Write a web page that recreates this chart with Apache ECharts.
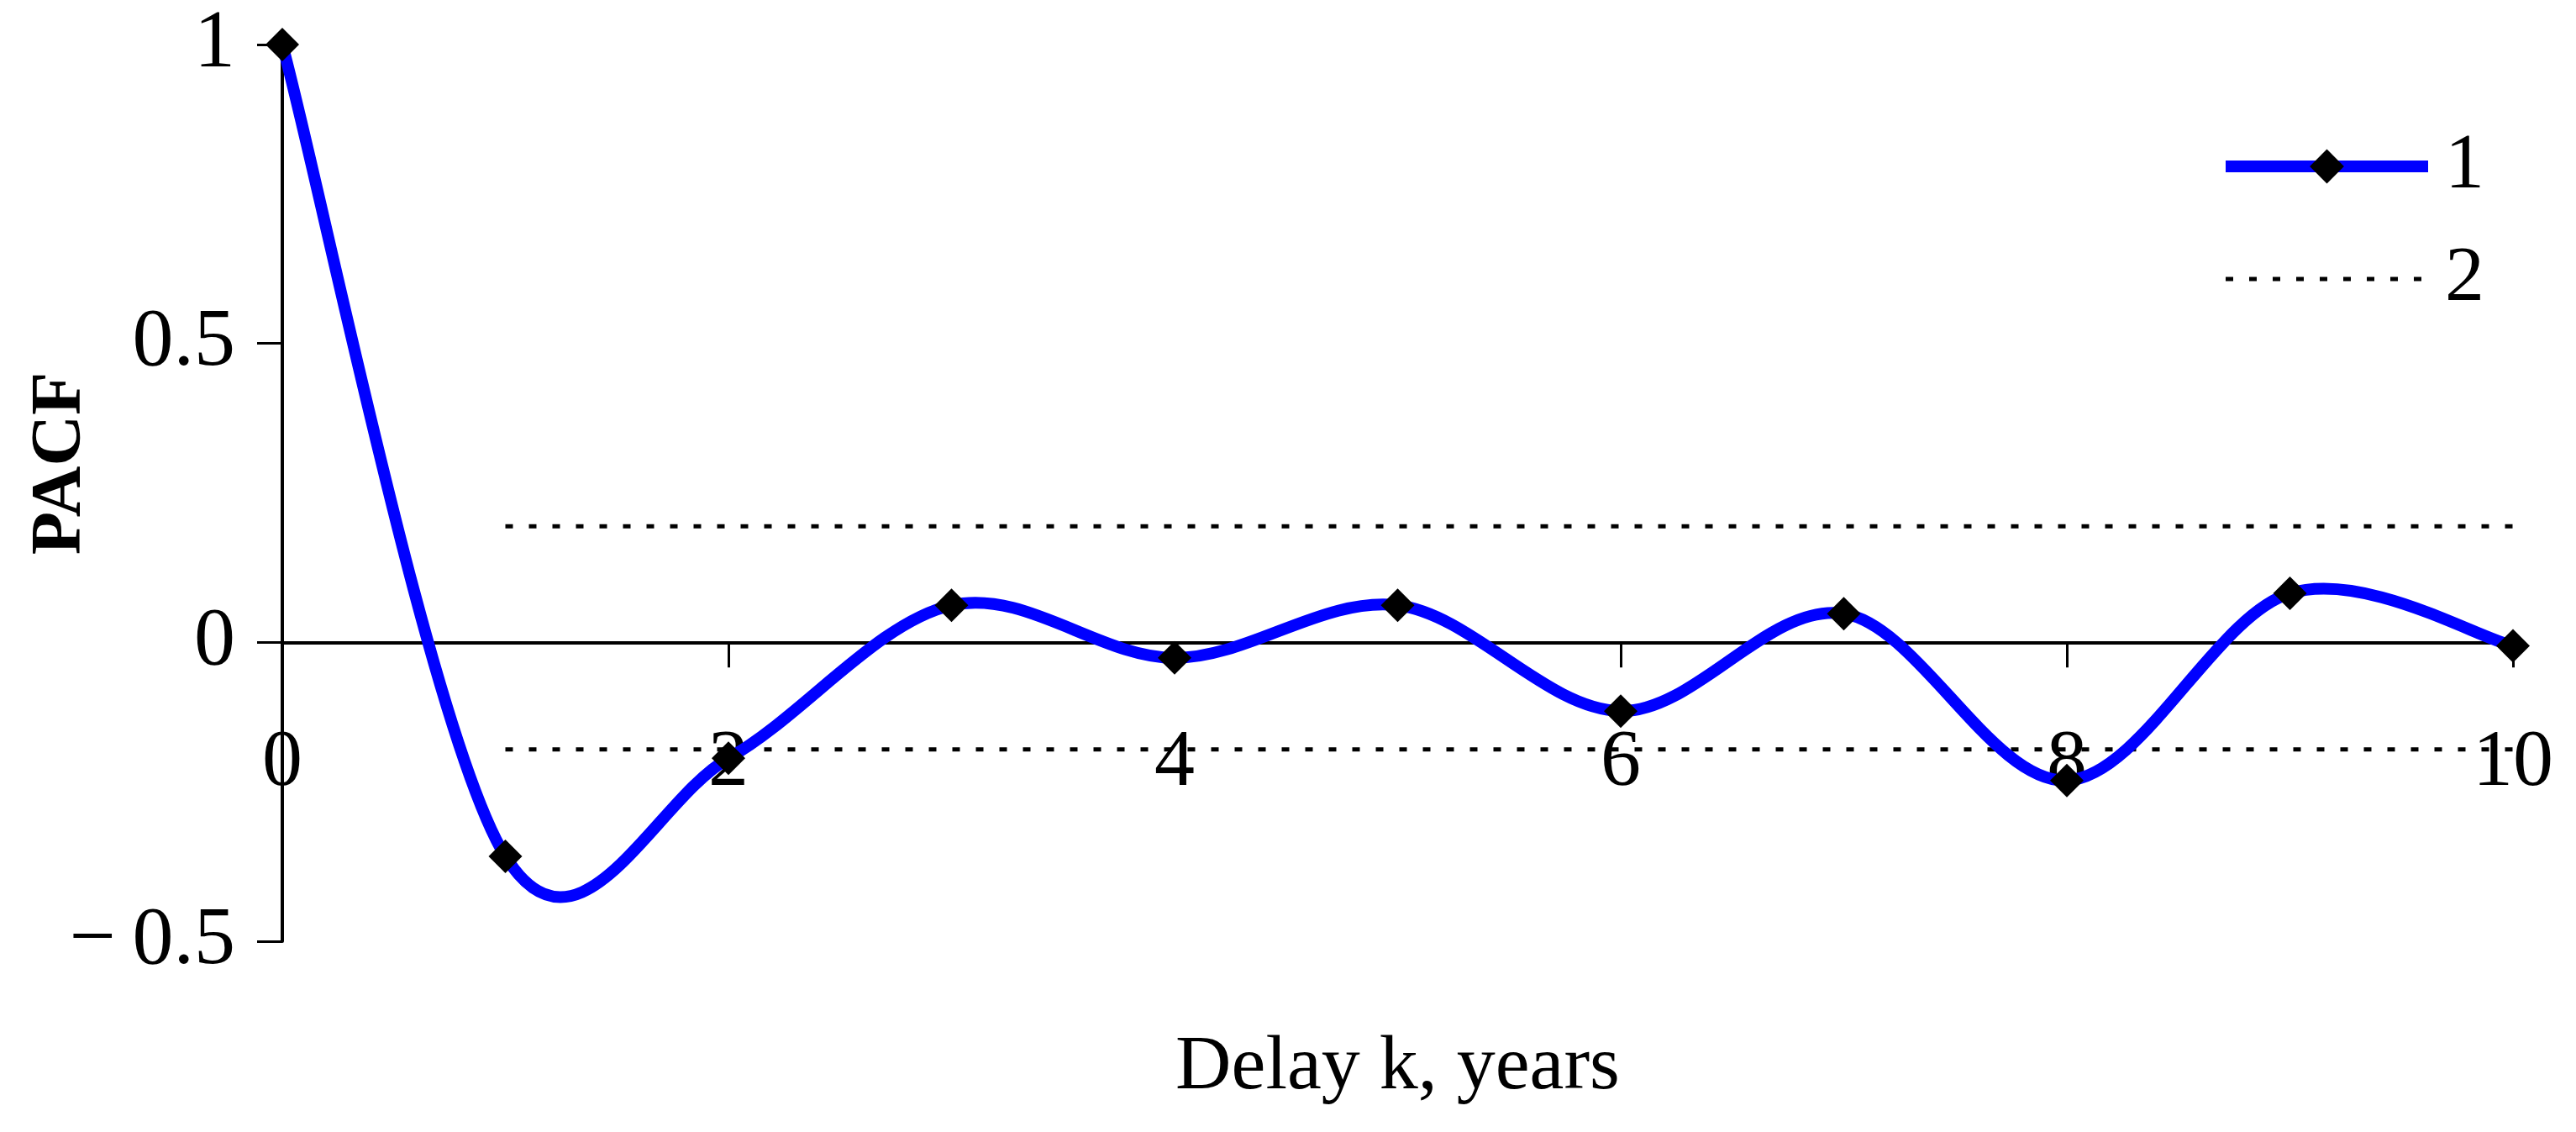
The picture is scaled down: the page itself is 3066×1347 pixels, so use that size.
<!DOCTYPE html>
<html>
<head>
<meta charset="utf-8">
<script src="https://cdn.jsdelivr.net/npm/echarts@6/dist/echarts.min.js"></script>
<style>
html,body{margin:0;padding:0;background:#fff;}
#chart{width:3066px;height:1347px;}
</style>
</head>
<body>
<div id="chart"></div>
<script>
// ---- data ----
const lags = [0, 1, 2, 3, 4, 5, 6, 7, 8, 9, 10];
const pacf = [1.0, -0.358, -0.194, 0.062, -0.026, 0.062, -0.115, 0.048, -0.231, 0.082, -0.006];
const boundLags = [1, 10];
const upperBound = 0.194;
const lowerBound = -0.179;
const xTicks = [0, 2, 4, 6, 8, 10];
const yTicks = [-0.5, 0, 0.5, 1];
const seriesNames = ['1', '2'];
const xName = 'Delay k, years';
const yName = 'PACF';

const FONT = "'Times New Roman', 'Liberation Serif', serif";
const BLUE = '#0000ff';
const LINE_W = 14;

const mainData = lags.map((k, i) => [k, pacf[i]]);
const upperData = boundLags.map(k => [k, upperBound]);
const lowerData = boundLags.map(k => [k, lowerBound]);
const dotted = { color: '#000', width: 5, type: [9, 19] };

// Spreadsheet-style smoothed curve: cubic Bezier segments through the data
// points (converted to pixels by the chart's own axes via api.coord).
function renderSmooth(params, api) {
  if (params.dataIndex !== 0) return null;
  const pts = mainData.map(d => api.coord(d));
  const n = pts.length;
  const children = [];
  for (let i = 0; i < n - 1; i++) {
    const p0 = pts[i - 1] || pts[i];
    const p1 = pts[i];
    const p2 = pts[i + 1];
    const p3 = pts[i + 2] || pts[i + 1];
    children.push({
      type: 'bezierCurve',
      shape: {
        x1: p1[0], y1: p1[1],
        cpx1: p1[0] + (p2[0] - p0[0]) / 6, cpy1: p1[1] + (p2[1] - p0[1]) / 6,
        cpx2: p2[0] - (p3[0] - p1[0]) / 6, cpy2: p2[1] - (p3[1] - p1[1]) / 6,
        x2: p2[0], y2: p2[1]
      },
      style: { stroke: BLUE, lineWidth: LINE_W, fill: 'none', lineCap: 'round', lineJoin: 'round' }
    });
  }
  return { type: 'group', children: children };
}

const chart = echarts.init(document.getElementById('chart'), null, { renderer: 'canvas' });
chart.setOption({
  backgroundColor: '#fff',
  animation: false,
  grid: { left: 336, right: 75, top: 53, bottom: 227, containLabel: false, outerBoundsMode: 'none' },
  xAxis: {
    type: 'value',
    min: xTicks[0], max: xTicks[xTicks.length - 1], interval: 2,
    name: xName, nameLocation: 'middle', nameGap: 105, nameMoveOverlap: false,
    nameTextStyle: { fontFamily: FONT, fontSize: 92, color: '#000' },
    axisLine: { onZero: true, lineStyle: { color: '#000', width: 4 } },
    axisTick: { show: true, length: 30, lineStyle: { color: '#000', width: 3 } },
    axisLabel: { fontFamily: FONT, fontSize: 96, color: '#000', margin: -259 },
    splitLine: { show: false }
  },
  yAxis: {
    type: 'value',
    min: yTicks[0], max: yTicks[yTicks.length - 1], interval: 0.5,
    name: yName, nameLocation: 'middle', nameGap: 221, nameRotate: 90, nameMoveOverlap: false,
    nameTextStyle: { fontFamily: FONT, fontSize: 84, fontWeight: 'bold', color: '#000', padding: [0, 0, 0, 70] },
    axisLine: { show: true, onZero: false, lineStyle: { color: '#000', width: 4 } },
    axisTick: { show: true, length: 30, lineStyle: { color: '#000', width: 3 } },
    axisLabel: {
      fontFamily: FONT, fontSize: 98, color: '#000', margin: 56,
      formatter: v => String(v).replace('-', '\u2212\u2009')
    },
    splitLine: { show: false }
  },
  legend: {
    orient: 'vertical',
    left: 2637, top: 146,
    itemWidth: 241, itemHeight: 51, itemGap: 40,
    textStyle: { fontFamily: FONT, fontSize: 94, color: '#000', padding: [0, 0, 0, 15] },
    data: [
      { name: seriesNames[0], lineStyle: { width: LINE_W, color: BLUE, opacity: 1 } },
      { name: seriesNames[1], lineStyle: { width: 5, color: '#000', type: [9, 19] }, itemStyle: { opacity: 0 } }
    ]
  },
  series: [
    {
      name: seriesNames[0] + ' curve', type: 'custom', data: mainData,
      encode: { x: 0, y: 1 }, renderItem: renderSmooth, silent: true, z: 4
    },
    {
      name: seriesNames[0], type: 'line', data: mainData,
      lineStyle: { color: BLUE, width: LINE_W, opacity: 0 },
      itemStyle: { color: '#000' },
      symbol: 'diamond', symbolSize: 40, z: 5
    },
    {
      name: seriesNames[1], type: 'line', data: upperData,
      symbol: 'none', lineStyle: dotted, itemStyle: { color: '#000' }, z: 3
    },
    {
      name: seriesNames[1], type: 'line', data: lowerData,
      symbol: 'none', lineStyle: dotted, itemStyle: { color: '#000' }, z: 3
    }
  ]
});
</script>
</body>
</html>
